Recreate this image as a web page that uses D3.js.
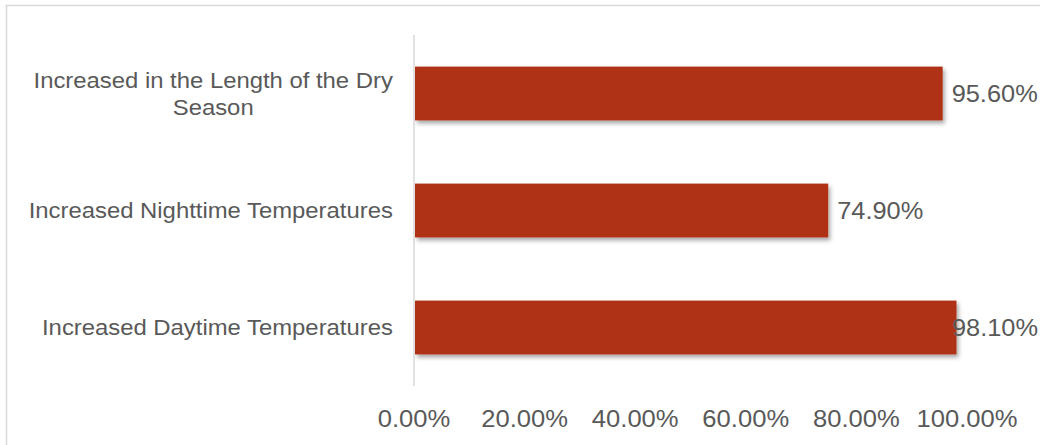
<!DOCTYPE html>
<html><head><meta charset="utf-8">
<script src="https://cdn.jsdelivr.net/npm/d3@7"></script>
<style>
html,body{margin:0;padding:0;background:#fff;overflow:hidden}
text{font-family:"Liberation Sans",Arial,sans-serif;fill:#595959}
</style></head>
<body>
<svg id="c" width="1040" height="445"></svg>
<script>
const categories = [
  ["Increased in the Length of the Dry", "Season"],
  ["Increased Nighttime Temperatures"],
  ["Increased Daytime Temperatures"]
];
const values = [0.956, 0.749, 0.981];
const valueLabels = ["95.60%", "74.90%", "98.10%"];
const tickValues = [0, 0.2, 0.4, 0.6, 0.8, 1.0];
const tickLabels = ["0.00%", "20.00%", "40.00%", "60.00%", "80.00%", "100.00%"];

const svg = d3.select("#c");
const sx = 1.06;
const catSx = 1.085;

// chart border
svg.append("rect").attr("x", 6.5).attr("y", 5.5).attr("width", 1100).attr("height", 500)
  .attr("fill", "none").attr("stroke", "#d9d9d9").attr("stroke-width", 1.5);

const defs = svg.append("defs");
const f = defs.append("filter").attr("id", "sh").attr("x", "-5%").attr("y", "-20%").attr("width", "115%").attr("height", "160%");
f.append("feDropShadow").attr("dx", 2).attr("dy", 3).attr("stdDeviation", 2)
  .attr("flood-color", "#000").attr("flood-opacity", 0.35);

const x = d3.scaleLinear().domain([0, 1]).range([414, 967]);
const idx = categories.map((d, i) => i);
const y = d3.scaleBand().domain(idx).range([35, 386]).paddingInner(0.54).paddingOuter(0.27);

// bars
svg.append("g").selectAll("rect").data(values).join("rect")
  .attr("x", x(0) + 1)
  .attr("y", (d, i) => y(i))
  .attr("width", d => x(d) - x(0) - 1)
  .attr("height", y.bandwidth())
  .attr("fill", "#B03316")
  .attr("filter", "url(#sh)");

// vertical axis line
svg.append("line").attr("x1", x(0)).attr("x2", x(0)).attr("y1", 35).attr("y2", 386)
  .attr("stroke", "#d9d9d9").attr("stroke-width", 1.5);

// category labels
const catFs = 22;
categories.forEach((lines, i) => {
  const cy = y(i) + y.bandwidth() / 2;
  const lh = 27.3;
  const n = lines.length;
  const g = svg.append("g");
  const texts = lines.map((t, j) => g.append("text").attr("font-size", catFs).text(t));
  const widths = texts.map(t => t.node().getComputedTextLength() * catSx);
  const maxW = d3.max(widths);
  const right = 393;
  texts.forEach((t, j) => {
    const cx = right - maxW / 2;
    const base = cy + (j - (n - 1) / 2) * lh + catFs * 0.36;
    t.attr("text-anchor", "middle")
     .attr("transform", `translate(${cx},${base}) scale(${catSx},1)`);
  });
});

// x tick labels
const tickFs = 23.5;
svg.append("g").selectAll("text").data(tickValues).join("text")
  .attr("font-size", tickFs)
  .attr("text-anchor", "middle")
  .attr("transform", d => `translate(${x(d)},427) scale(${sx + 0.03},1)`)
  .text((d, i) => tickLabels[i]);

// data labels
const dlFs = 23.5;
values.forEach((v, i) => {
  const t = svg.append("text").attr("font-size", dlFs).text(valueLabels[i]);
  const w = t.node().getComputedTextLength() * (sx + 0.02);
  let lx = x(v) + 9;
  if (lx + w > 1038) lx = 1038 - w;
  const cy = y(i) + y.bandwidth() / 2 + dlFs * 0.36;
  t.attr("transform", `translate(${lx},${cy}) scale(${sx + 0.02},1)`);
});
</script>
</body></html>
